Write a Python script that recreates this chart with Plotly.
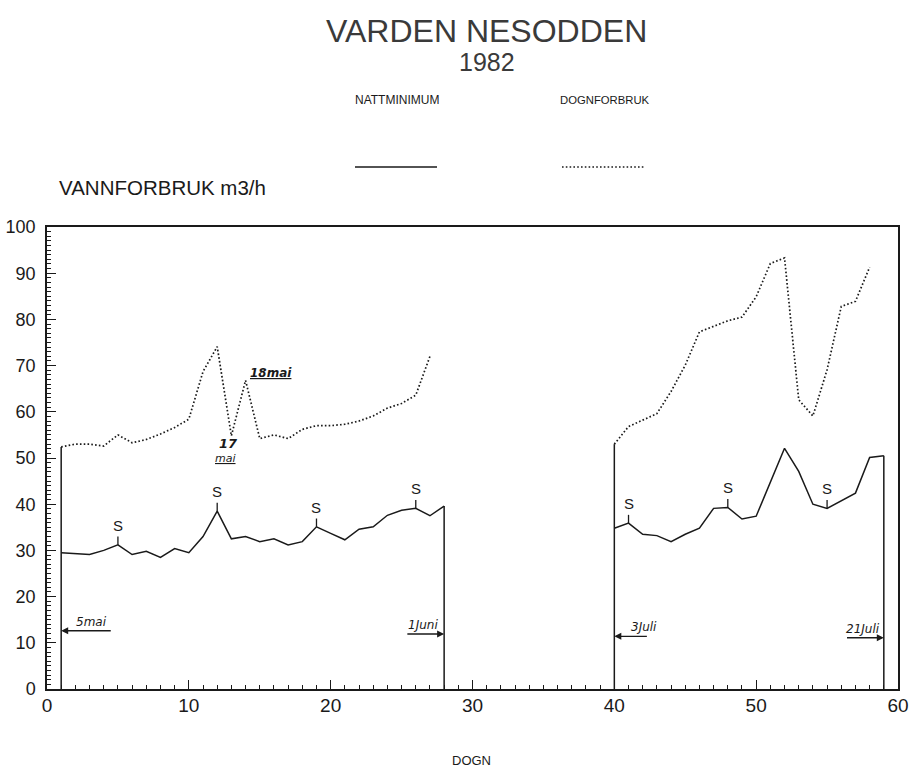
import plotly.graph_objects as go

# ---- data ----
days_a = list(range(1, 29))
natt_a = [29.5, 29.3, 29.1, 30.0, 31.2, 29.1, 29.8, 28.5, 30.4, 29.5, 33.0, 38.5, 32.5, 33.0,
          31.9, 32.5, 31.2, 31.9, 35.1, 33.7, 32.3, 34.6, 35.1, 37.6, 38.7, 39.1, 37.5, 39.6]
days_dog_a = list(range(1, 28))
dogn_a = [52.4, 53.0, 53.0, 52.6, 55.0, 53.3, 54.0, 55.2, 56.6, 58.4, 68.7, 74.1, 54.8, 66.8,
          54.2, 55.0, 54.2, 56.2, 57.0, 57.0, 57.3, 58.0, 59.1, 60.8, 61.8, 63.6, 72.0]

days_b = list(range(40, 60))
natt_b = [34.8, 35.9, 33.5, 33.2, 31.9, 33.5, 34.8, 39.1, 39.3, 36.8, 37.4, 44.8, 52.1, 47.1,
          40.0, 39.1, 40.8, 42.4, 50.1, 50.5]
days_dog_b = list(range(40, 59))
dogn_b = [53.0, 56.8, 58.2, 59.6, 64.4, 70.1, 77.3, 78.5, 79.7, 80.5, 84.9, 92.1, 93.3, 62.6,
          59.1, 69.1, 82.8, 83.9, 91.3]

sundays = [5, 12, 19, 26, 41, 48, 55]

x_ticks = [0, 10, 20, 30, 40, 50, 60]
y_ticks = [0, 10, 20, 30, 40, 50, 60, 70, 80, 90, 100]

INK = "#1a1a1a"
FONT = "Liberation Sans, Arial, sans-serif"
HAND = "DejaVu Sans, sans-serif"
DOTS = "1.6px,2.2px"

fig = go.Figure()

solid = dict(color=INK, width=1.5)
dotted = dict(color=INK, width=1.7, dash=DOTS)

# night minimum (solid)
fig.add_trace(go.Scatter(x=days_a, y=natt_a, mode="lines", line=solid, showlegend=False))
fig.add_trace(go.Scatter(x=days_b, y=natt_b, mode="lines", line=solid, showlegend=False))
# daily consumption (dotted)
fig.add_trace(go.Scatter(x=days_dog_a, y=dogn_a, mode="lines", line=dotted, showlegend=False))
fig.add_trace(go.Scatter(x=days_dog_b, y=dogn_b, mode="lines", line=dotted, showlegend=False))

# period boundary lines
bounds = [(days_dog_a[0], dogn_a[0]), (days_a[-1], natt_a[-1]),
          (days_dog_b[0], dogn_b[0]), (days_b[-1], natt_b[-1])]
for bx, by in bounds:
    fig.add_trace(go.Scatter(x=[bx, bx], y=[0, by], mode="lines", line=solid, showlegend=False))

# Sunday markers
lookup = dict(zip(days_a + days_b, natt_a + natt_b))
for d in sundays:
    v = lookup[d]
    fig.add_trace(go.Scatter(x=[d, d], y=[v, v + 1.8], mode="lines",
                             line=dict(color=INK, width=1.3), showlegend=False))
    fig.add_annotation(x=d, y=v + 1.8, text="S", showarrow=False, yanchor="bottom", yshift=1,
                       font=dict(family=FONT, size=15, color=INK))

# date arrows
arrows = [
    (days_dog_a[0], 12.6, 4.6, "5mai", 3.15),
    (days_a[-1], 11.9, 25.3, "1Juni", 26.5),
    (days_dog_b[0], 11.4, 42.4, "3Juli", 42.1),
    (days_b[-1], 11.1, 56.3, "21Juli", 57.5),
]
for hx, hy, tx, label, lx in arrows:
    fig.add_annotation(x=hx, y=hy, ax=tx, ay=hy, axref="x", ayref="y", text="",
                       showarrow=True, arrowhead=2, arrowsize=1, arrowwidth=1.4, arrowcolor=INK)
    fig.add_annotation(x=lx, y=hy, text="<i>" + label + "</i>", showarrow=False,
                       yanchor="bottom", yshift=0, font=dict(family=HAND, size=12, color=INK))

# notes near 17 / 18 mai
fig.add_annotation(x=12.8, y=53.2, text="<b><i>17</i></b>", showarrow=False,
                   font=dict(family=HAND, size=13, color=INK))
fig.add_annotation(x=12.6, y=49.9, text="<i><u>mai</u></i>", showarrow=False,
                   font=dict(family=HAND, size=11, color=INK))
fig.add_annotation(x=15.8, y=68.3, text="<b><i><u>18mai</u></i></b>", showarrow=False,
                   font=dict(family=HAND, size=12, color=INK))

# titles & legend (paper coords)
W, H = 911, 770
L, R, T, B = 47, 898, 227, 689


def px(xp):
    return (xp - L) / (R - L)


def py(yp):
    return (B - yp) / (B - T)


def note(xp, yp, text, size, color=INK, xanchor="center"):
    fig.add_annotation(x=px(xp), y=py(yp), xref="paper", yref="paper", text=text,
                       xanchor=xanchor, yanchor="middle", showarrow=False,
                       font=dict(family=FONT, size=size, color=color))


note(487, 31, "VARDEN NESODDEN", 32, "#3a3a3a")
note(487, 62, "1982", 25, "#3a3a3a")
note(397, 100, "NATTMINIMUM", 12)
note(605, 100, "DOGNFORBRUK", 11.3)
note(57, 187, "VANNFORBRUK m3/h", 20.5, xanchor="left")
note(471, 760, "DOGN", 13)

fig.add_shape(type="line", xref="paper", yref="paper", x0=px(355), x1=px(437), y0=py(167), y1=py(167),
              line=dict(color=INK, width=1.5))
fig.add_shape(type="line", xref="paper", yref="paper", x0=px(562), x1=px(645), y0=py(167), y1=py(167),
              line=dict(color=INK, width=1.7, dash=DOTS))

fig.update_xaxes(range=[0, 60], tickvals=x_ticks, ticktext=[str(v) for v in x_ticks],
                 ticks="inside", ticklen=9, tickwidth=1.3, tickcolor=INK, automargin=False,
                 minor=dict(dtick=1, ticks="inside", ticklen=4, tickcolor=INK, tickwidth=1),
                 showline=True, linecolor=INK, linewidth=1.5, mirror=True, showgrid=False,
                 zeroline=False, tickfont=dict(family=FONT, size=19, color=INK),
                 ticklabelstandoff=-2)
fig.update_yaxes(range=[0, 100], tickvals=y_ticks, ticktext=[str(v) for v in y_ticks],
                 ticks="inside", ticklen=9, tickwidth=1.3, tickcolor=INK, automargin=False,
                 minor=dict(dtick=1, ticks="inside", ticklen=4, tickcolor=INK, tickwidth=1),
                 showline=True, linecolor=INK, linewidth=1.5, mirror=True, showgrid=False,
                 zeroline=False, tickfont=dict(family=FONT, size=18, color=INK),
                 ticklabelstandoff=6)

fig.update_layout(width=W, height=H, margin=dict(l=L, r=W - R, t=T, b=H - B),
                  plot_bgcolor="white", paper_bgcolor="white", showlegend=False)

fig.write_html("out.html", config={"displayModeBar": False},
               post_script="document.body.style.margin='0px';document.body.style.overflow='hidden';")
